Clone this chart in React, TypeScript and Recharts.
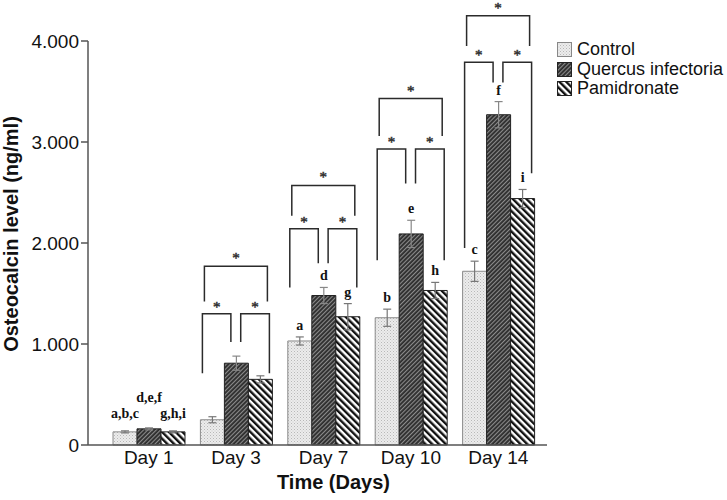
import React from 'react';
import { Bar, BarChart, ErrorBar, LabelList, Legend, XAxis, YAxis } from 'recharts';

document.body.style.margin = '0';

const days = ['Day 1', 'Day 3', 'Day 7', 'Day 10', 'Day 14'];

const control = [0.13, 0.25, 1.03, 1.26, 1.72];
const controlErr = [0.01, 0.03, 0.04, 0.085, 0.1];
const quercus = [0.16, 0.81, 1.48, 2.09, 3.27];
const quercusErr = [0.01, 0.07, 0.08, 0.135, 0.13];
const pamidronate = [0.13, 0.65, 1.27, 1.53, 2.44];
const pamidronateErr = [0.01, 0.035, 0.13, 0.08, 0.09];

const controlLetters = ['a,b,c', '', 'a', 'b', 'c'];
const quercusLetters = ['d,e,f', '', 'd', 'e', 'f'];
const pamLetters = ['g,h,i', '', 'g', 'h', 'i'];

// significance brackets, heights in ng/ml (no brackets on day 1)
const bigTop = [null, 1.77, 2.57, 3.43, 4.25];
const bigLegEnd = [null, 1.42, 2.27, 3.06, 3.95];
const innerTop = [null, 1.3, 2.14, 2.93, 3.79];
const midLegEnd = [null, 1.02, 1.8, 2.59, 3.59];
const leftLegEnd = [null, 0.71, 1.56, 1.83, 1.95];
const rightLegEnd = [null, 0.71, 1.56, 1.83, 2.69];

const yTicks = [0, 1, 2, 3, 4];

const data = days.map((day, i) => ({
  day,
  control: control[i],
  controlErr: controlErr[i],
  quercus: quercus[i],
  quercusErr: quercusErr[i],
  pamidronate: pamidronate[i],
  pamidronateErr: pamidronateErr[i],
}));

const sans = '"Liberation Sans", Arial, sans-serif';
const serif = '"Liberation Serif", "Times New Roman", serif';
const ink = '#2b2b2b';

const fmtY = (v: number) => (v === 0 ? '0' : v.toFixed(3));

function letterLabel(letters: string[], vals: number[], errs: number[], dayOneLift: number) {
  return (props: any) => {
    const vb = props.viewBox || props;
    const i = days.indexOf(props.value);
    if (i < 0 || !letters[i]) return null;
    const k = vb.height / vals[i];
    const errTop = vb.y - errs[i] * k;
    const cy = errTop - 12 - (i === 0 ? dayOneLift : 0);
    return (
      <text
        x={vb.x + vb.width / 2}
        y={cy + 5}
        textAnchor="middle"
        fontFamily={serif}
        fontWeight="bold"
        fontSize={14}
        fill="#111"
      >
        {letters[i]}
      </text>
    );
  };
}

function Star({ x, y }: { x: number; y: number }) {
  return (
    <text
      x={x}
      y={y + 3}
      textAnchor="middle"
      fontFamily={serif}
      fontSize={15}
      fill="#333"
      stroke="#333"
      strokeWidth={0.5}
    >
      *
    </text>
  );
}

// drawn from the middle (Quercus) bar of each group
const GroupBrackets = (props: any) => {
  const vb = props.viewBox || props;
  const i = days.indexOf(props.value);
  if (i < 0 || bigTop[i] == null) return null;
  const w = vb.width;
  const k = vb.height / quercus[i];
  const base = vb.y + vb.height;
  const py = (v: number) => base - v * k;

  const oL = vb.x - w + 2;
  const mL = vb.x + w * 0.27;
  const mR = vb.x + w * 0.68;
  const oR = vb.x + 2 * w - 3;
  const bL = vb.x - w + 4;
  const bR = vb.x + 2 * w - 5;

  const tb = py(bigTop[i] as number);
  const ti = py(innerTop[i] as number);
  const line = { stroke: ink, strokeWidth: 1.5, fill: 'none' };
  return (
    <g>
      <polyline {...line} points={`${bL},${py(bigLegEnd[i] as number)} ${bL},${tb} ${bR},${tb} ${bR},${py(bigLegEnd[i] as number)}`} />
      <polyline {...line} points={`${oL},${py(leftLegEnd[i] as number)} ${oL},${ti} ${mL},${ti} ${mL},${py(midLegEnd[i] as number)}`} />
      <polyline {...line} points={`${mR},${py(midLegEnd[i] as number)} ${mR},${ti} ${oR},${ti} ${oR},${py(rightLegEnd[i] as number)}`} />
      <Star x={(bL + bR) / 2} y={tb - 6} />
      <Star x={(oL + mL) / 2} y={ti - 5} />
      <Star x={(mR + oR) / 2} y={ti - 5} />
    </g>
  );
};

const legendItems = [
  { label: 'Control', fill: 'url(#patControl)', stroke: '#888' },
  { label: 'Quercus infectoria', fill: 'url(#patQuercus)', stroke: '#222' },
  { label: 'Pamidronate', fill: 'url(#patPam)', stroke: '#222' },
];

const LegendBox = () => (
  <div style={{ fontFamily: sans, fontSize: 18, color: '#111', lineHeight: '19.5px' }}>
    {legendItems.map((it) => (
      <div key={it.label} style={{ display: 'flex', alignItems: 'center', whiteSpace: 'nowrap' }}>
        <svg width={15} height={15} style={{ marginRight: 5 }}>
          <rect x={0.5} y={0.5} width={14} height={14} fill={it.fill} stroke={it.stroke} />
        </svg>
        {it.label}
      </div>
    ))}
  </div>
);

const YTitle = (props: any) => {
  const vb = props.viewBox;
  const cx = vb.x + 18;
  const cy = vb.y + vb.height / 2 - 9;
  return (
    <text
      x={cx}
      y={cy}
      transform={`rotate(-90, ${cx}, ${cy})`}
      textAnchor="middle"
      fontFamily={sans}
      fontWeight="bold"
      fontSize={20}
      fill="#111"
    >
      Osteocalcin level (ng/ml)
    </text>
  );
};

const XTitle = (props: any) => {
  const vb = props.viewBox;
  return (
    <text
      x={vb.x + vb.width / 2 + 16}
      y={vb.y + 44}
      textAnchor="middle"
      fontFamily={sans}
      fontWeight="bold"
      fontSize={20}
      fill="#111"
    >
      Time (Days)
    </text>
  );
};

export default function App() {
  return (
    <div style={{ width: 727, height: 500, background: '#fff' }}>
      <BarChart
        width={727}
        height={500}
        data={data}
        margin={{ top: 41, right: 180, bottom: 0, left: 0 }}
        barSize={24}
        barGap={0}
      >
        <defs>
          <pattern id="patControl" width={3} height={3} patternUnits="userSpaceOnUse">
            <rect width={3} height={3} fill="#ececec" />
            <rect x={0} y={0} width={1} height={1} fill="#b8b8b8" />
            <rect x={1.5} y={1.5} width={1} height={1} fill="#c8c8c8" />
          </pattern>
          <pattern id="patQuercus" width={3} height={3} patternUnits="userSpaceOnUse" patternTransform="rotate(45)">
            <rect width={3} height={3} fill="#2e2e2e" />
            <rect x={0} y={0} width={1.1} height={3} fill="#8c8c8c" />
          </pattern>
          <pattern id="patPam" width={4.8} height={4.8} patternUnits="userSpaceOnUse" patternTransform="rotate(-45)">
            <rect width={4.8} height={4.8} fill="#ffffff" />
            <rect x={0} y={0} width={2.4} height={4.8} fill="#111" />
          </pattern>
        </defs>
        <XAxis
          dataKey="day"
          height={55}
          padding={{ left: 17, right: 5 }}
          tickLine={false}
          tickSize={4}
          tickMargin={2}
          axisLine={{ stroke: '#555', strokeWidth: 1.5 }}
          tick={{ fill: '#111', fontSize: 19, fontFamily: sans }}
          label={<XTitle />}
        />
        <YAxis
          width={88}
          domain={[0, 4]}
          ticks={yTicks}
          tickFormatter={fmtY}
          tickSize={7}
          tickMargin={2}
          axisLine={{ stroke: '#555', strokeWidth: 1.5 }}
          tickLine={{ stroke: '#555', strokeWidth: 1.5 }}
          tick={{ fill: '#111', fontSize: 19, fontFamily: sans }}
          label={<YTitle />}
        />
        <Legend
          layout="vertical"
          align="center"
          verticalAlign="middle"
          content={<LegendBox />}
          wrapperStyle={{ top: 40, left: 557, width: 170 }}
        />
        <Bar dataKey="control" name="Control" fill="url(#patControl)" stroke="#8a8a8a" strokeWidth={1} isAnimationActive={false}>
          <ErrorBar dataKey="controlErr" width={4} stroke="#777" strokeWidth={1.2} isAnimationActive={false} />
          <LabelList dataKey="day" content={letterLabel(controlLetters, control, controlErr, 6)} />
        </Bar>
        <Bar dataKey="quercus" name="Quercus infectoria" fill="url(#patQuercus)" stroke="#222" strokeWidth={1} isAnimationActive={false}>
          <ErrorBar dataKey="quercusErr" width={4} stroke="#888" strokeWidth={1.2} isAnimationActive={false} />
          <LabelList dataKey="day" content={letterLabel(quercusLetters, quercus, quercusErr, 19)} />
          <LabelList dataKey="day" content={GroupBrackets} />
        </Bar>
        <Bar dataKey="pamidronate" name="Pamidronate" fill="url(#patPam)" stroke="#222" strokeWidth={1} isAnimationActive={false}>
          <ErrorBar dataKey="pamidronateErr" width={4} stroke="#777" strokeWidth={1.2} isAnimationActive={false} />
          <LabelList dataKey="day" content={letterLabel(pamLetters, pamidronate, pamidronateErr, 6)} />
        </Bar>
      </BarChart>
    </div>
  );
}
